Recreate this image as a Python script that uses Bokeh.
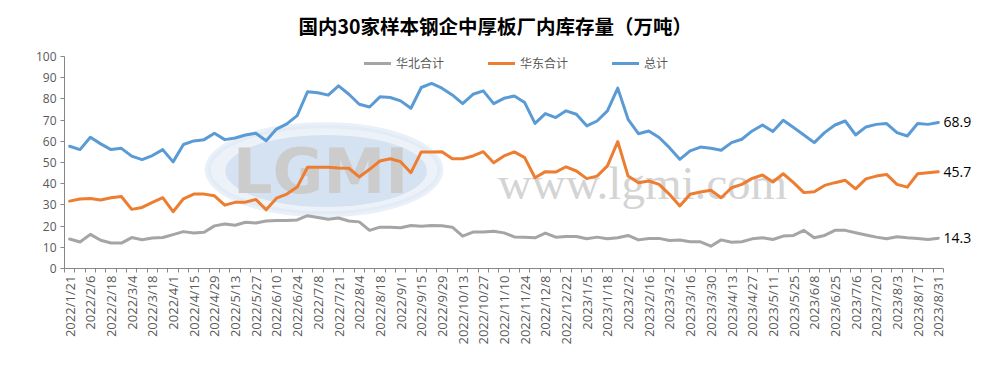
import math
from bokeh.plotting import figure
from bokeh.models import (Range1d, FixedTicker, Legend, LegendItem, LinearAxis)
from bokeh.core.properties import value
from bokeh.embed import file_html
from bokeh.resources import INLINE

title_text = "国内30家样本钢企中厚板厂内库存量（万吨）"
series_names = ["华北合计", "华东合计", "总计"]

tick_labels = [
    "2022/1/21", "2022/2/6", "2022/2/18", "2022/3/4", "2022/3/18", "2022/4/1",
    "2022/4/15", "2022/4/29", "2022/5/13", "2022/5/27", "2022/6/10", "2022/6/24",
    "2022/7/8", "2022/7/21", "2022/8/4", "2022/8/18", "2022/9/1", "2022/9/15",
    "2022/9/29", "2022/10/13", "2022/10/27", "2022/11/10", "2022/11/24", "2022/12/8",
    "2022/12/22", "2023/1/5", "2023/1/18", "2023/2/2", "2023/2/16", "2023/3/2",
    "2023/3/16", "2023/3/30", "2023/4/13", "2023/4/27", "2023/5/11", "2023/5/25",
    "2023/6/8", "2023/6/25", "2023/7/6", "2023/7/20", "2023/8/3", "2023/8/17",
    "2023/8/31",
]

north = [13.9, 12.5, 16.1, 13.3, 12.0, 12.0, 14.6, 13.6, 14.4, 14.6,
         16.0, 17.4, 16.8, 17.1, 20.1, 21.0, 20.4, 21.8, 21.5, 22.4,
         22.7, 22.6, 22.9, 24.9, 24.1, 23.2, 23.8, 22.4, 22.0, 18.0,
         19.5, 19.5, 19.2, 20.3, 19.9, 20.3, 20.2, 19.5, 15.3, 17.2,
         17.2, 17.6, 16.8, 14.9, 14.8, 14.5, 16.7, 14.8, 15.1, 15.1,
         14.0, 14.8, 14.0, 14.5, 15.6, 13.5, 14.2, 14.2, 13.2, 13.4,
         12.6, 12.6, 10.5, 13.5, 12.4, 12.6, 14.0, 14.5, 13.7, 15.3,
         15.6, 18.0, 14.5, 15.6, 18.0, 18.0, 16.9, 15.8, 14.8, 14.0,
         15.0, 14.5, 14.2, 13.7, 14.3]

east = [31.8, 32.8, 33.0, 32.3, 33.4, 34.0, 27.9, 28.8, 31.2, 33.4,
        26.8, 32.9, 35.1, 35.1, 34.3, 29.9, 31.2, 31.3, 32.6, 27.7,
        33.2, 35.1, 38.4, 47.8, 47.8, 47.8, 47.4, 47.3, 43.2, 46.8,
        50.7, 51.8, 50.4, 45.2, 55.0, 55.0, 55.1, 51.8, 51.8, 53.1,
        55.1, 49.9, 53.1, 55.0, 52.3, 42.8, 45.7, 45.5, 48.0, 46.0,
        42.4, 43.6, 48.4, 59.9, 43.6, 40.5, 41.3, 39.7, 35.0, 29.5,
        35.0, 36.1, 36.9, 33.4, 38.1, 39.7, 42.5, 44.1, 40.8, 44.7,
        40.5, 35.8, 36.2, 39.2, 40.5, 41.6, 37.6, 42.3, 43.6, 44.4,
        39.7, 38.4, 44.7, 45.2, 45.7]

total = [57.7, 56.1, 61.9, 58.8, 56.1, 56.7, 53.0, 51.4, 53.3, 56.1,
         50.3, 58.5, 60.2, 60.8, 63.8, 60.8, 61.6, 63.0, 63.8, 60.3,
         65.8, 68.2, 72.1, 83.4, 82.9, 81.8, 86.2, 82.2, 77.5, 76.2,
         81.0, 80.7, 79.1, 75.6, 85.4, 87.3, 85.1, 81.9, 77.8, 82.2,
         83.8, 77.8, 80.3, 81.4, 78.3, 68.5, 73.1, 71.2, 74.4, 72.8,
         67.3, 69.6, 74.4, 85.1, 70.4, 63.6, 64.9, 61.8, 57.0, 51.5,
         55.5, 57.3, 56.7, 55.8, 59.4, 61.0, 64.9, 67.7, 64.6, 69.9,
         66.5, 63.0, 59.4, 64.1, 67.7, 69.6, 63.0, 66.8, 68.0, 68.4,
         64.1, 62.5, 68.4, 68.0, 68.9]

colors = ["#A5A5A5", "#ED7D31", "#5B9BD5"]
n = len(total)
xs = list(range(n))

p = figure(width=975, height=354, output_backend="svg", toolbar_location=None,
           x_range=Range1d(-0.5, n - 0.5), y_range=Range1d(0, 103.8),
           min_border_left=64, min_border_right=32, min_border_top=43,
           min_border_bottom=86)
p.outline_line_color = None
p.xgrid.visible = False
p.ygrid.visible = False
p.background_fill_color = "white"
p.border_fill_color = "white"

# title
p.title.text = title_text
p.title.align = "left"
p.title.offset = 234
p.title.text_font = "Noto Sans CJK SC"
p.title.text_font_size = "19.5px"
p.title.text_font_style = "bold"
p.title.text_color = "#000000"
p.title.standoff = 17

# watermark
p.ellipse(x=[24.6], y=[46.6], width=[22.5], height=[42], fill_color="#dbe6f3",
          line_color="#dbe6f3", line_width=6, fill_alpha=0.5, line_alpha=0.6)
p.ellipse(x=[24.8], y=[46.0], width=[19.5], height=[34], fill_color="#c9dbef",
          line_color=None, fill_alpha=0.7)
p.text(x=[15.8], y=[46.0], text=["LGMI"], text_font=value("DejaVu Sans"),
       text_font_size="62px", text_font_style="bold", text_color="#cccccc",
       text_baseline="middle", text_align="left")
p.text(x=[41.4], y=[40.5], text=["www.lgmi.com"], text_font=value("Liberation Serif"),
       text_font_size="47px", text_color="#d4d4d4", text_baseline="alphabetic",
       text_align="left")

renderers = []
for ys, c in zip([north, east, total], colors):
    r = p.line(xs, ys, line_color=c, line_width=3, line_join="round", line_cap="round")
    renderers.append(r)

legend = Legend(items=[LegendItem(label=nm, renderers=[r]) for nm, r in zip(series_names, renderers)],
                orientation="horizontal", location=(300, 197),
                glyph_width=27, glyph_height=12, label_height=12, label_standoff=5,
                spacing=44, padding=0, margin=0, border_line_color=None,
                background_fill_alpha=0,
                label_text_font="Noto Sans CJK SC", label_text_font_size="12px",
                label_text_color="#595959")
p.add_layout(legend, "center")

# end-value labels as a right axis
last_vals = [north[-1], east[-1], total[-1]]
ra = LinearAxis(ticker=FixedTicker(ticks=last_vals, minor_ticks=[]))
ra.major_label_overrides = {v: f"{v:.1f}" for v in last_vals}
ra.axis_line_color = None
ra.major_tick_line_color = None
ra.minor_tick_line_color = None
ra.major_tick_out = 0
ra.major_tick_in = 0
ra.major_label_standoff = 0
ra.major_label_text_font = "Open Sans"
ra.major_label_text_font_size = "14px"
ra.major_label_text_color = "#000000"
p.add_layout(ra, "right")

# axes
xa = p.xaxis[0]
xa.ticker = FixedTicker(ticks=list(range(0, n, 2)),
                        minor_ticks=[i - 0.5 for i in range(n + 1)])
xa.major_label_overrides = {i * 2: lab for i, lab in enumerate(tick_labels)}
xa.major_label_orientation = math.pi / 2
xa.major_tick_out = 0
xa.major_tick_in = 0
xa.minor_tick_out = 4
xa.minor_tick_in = 0
xa.minor_tick_line_color = "#868686"
xa.axis_line_color = "#868686"
xa.major_label_text_font = "Open Sans"
xa.major_label_text_font_size = "13px"
xa.major_label_text_color = "#595959"
xa.major_label_standoff = 3
xa.axis_label = None

ya = p.yaxis[0]
ya.ticker = FixedTicker(ticks=list(range(0, 101, 10)), minor_ticks=[])
ya.bounds = (0, 100)
ya.major_tick_out = 4
ya.major_tick_in = 0
ya.major_tick_line_color = "#868686"
ya.axis_line_color = "#868686"
ya.minor_tick_line_color = None
ya.major_label_text_font = "Open Sans"
ya.major_label_text_font_size = "12px"
ya.major_label_text_color = "#595959"
ya.major_label_standoff = 4

open("out.html", "w").write(file_html(p, INLINE))
